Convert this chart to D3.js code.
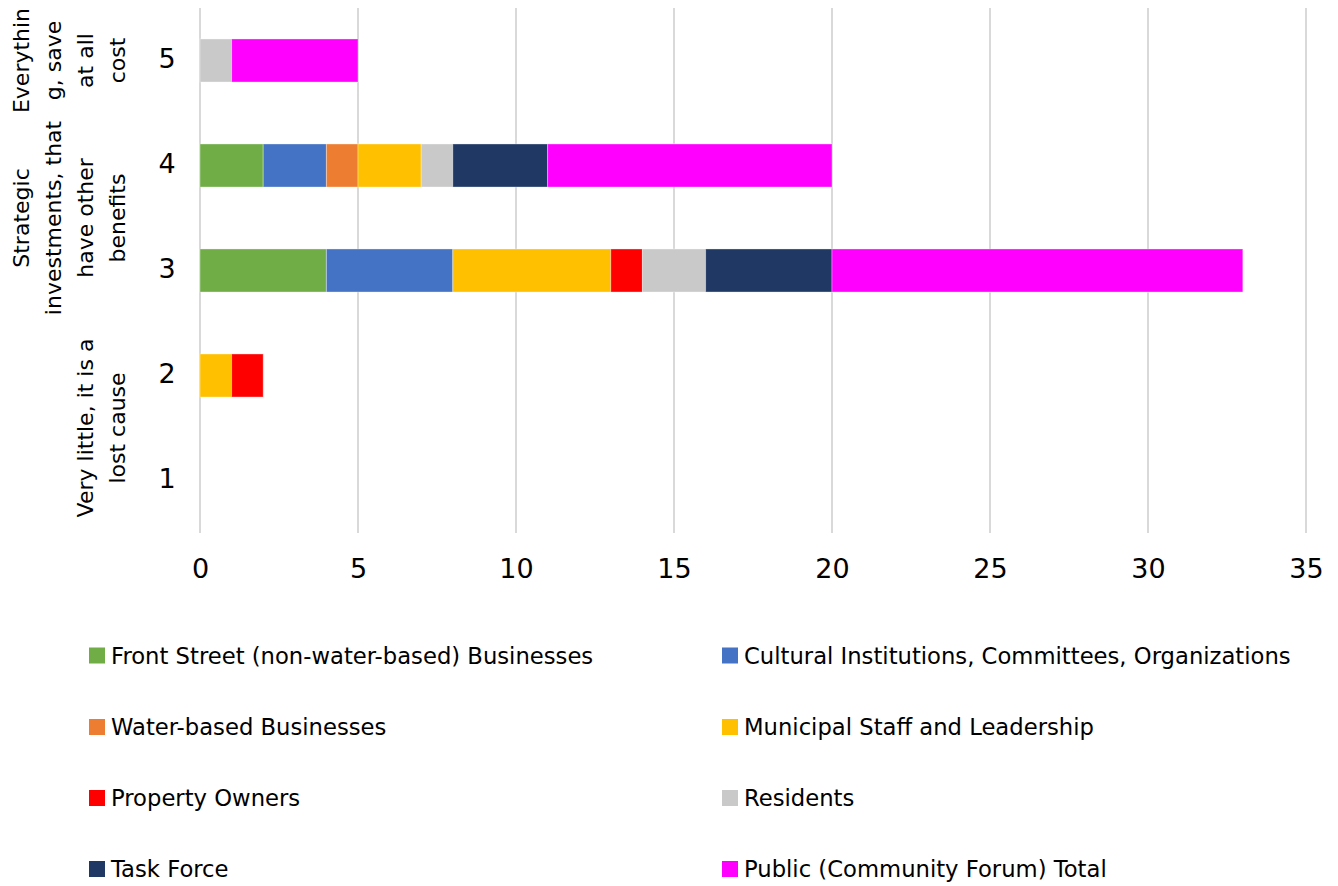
<!DOCTYPE html>
<html>
<head>
<meta charset="utf-8">
<script src="https://cdn.jsdelivr.net/npm/d3@7"></script>
<style>
  html, body { margin: 0; padding: 0; background: #fff; }
  svg { display: block; font-family: "DejaVu Sans", sans-serif; }
</style>
</head>
<body>
<svg id="chart" width="1338" height="886"></svg>
<script>
// Response scale (1 = lowest, 5 = highest), listed top to bottom
const categories = ["5", "4", "3", "2", "1"];

// Stakeholder groups, in stacking order
const seriesNames = [
  "Front Street (non-water-based) Businesses",
  "Cultural Institutions, Committees, Organizations",
  "Water-based Businesses",
  "Municipal Staff and Leadership",
  "Property Owners",
  "Residents",
  "Task Force",
  "Public (Community Forum) Total"
];
const seriesColors = ["#70AD47", "#4472C4", "#ED7D31", "#FFC000", "#FF0000", "#C9C9C9", "#203864", "#FF00FF"];

// Counts per category (order: 5, 4, 3, 2, 1)
const frontStreet = [0, 2, 4, 0, 0];
const cultural    = [0, 2, 4, 0, 0];
const waterBased  = [0, 1, 0, 0, 0];
const municipal   = [0, 2, 5, 1, 0];
const property    = [0, 0, 1, 1, 0];
const residents   = [1, 1, 2, 0, 0];
const taskForce   = [0, 3, 4, 0, 0];
const publicTotal = [4, 9, 13, 0, 0];

// Grouped axis descriptions (pre-wrapped lines)
const groupLabels = [
  { lines: ["Everythin", "g, save", "at all", "cost"], cats: ["5"] },
  { lines: ["Strategic", "investments, that", "have other", "benefits"], cats: ["4", "3"] },
  { lines: ["Very little, it is a", "lost cause"], cats: ["2", "1"] }
];

const xTicks = [0, 5, 10, 15, 20, 25, 30, 35];

const seriesValues = [frontStreet, cultural, waterBased, municipal, property, residents, taskForce, publicTotal];
const rows = categories.map((c, i) => {
  const r = { cat: c };
  seriesNames.forEach((s, j) => { r[s] = seriesValues[j][i]; });
  return r;
});

const svg = d3.select("#chart");
const plot = { left: 200, right: 1306, top: 8, bottom: 533 };

const x = d3.scaleLinear().domain([0, 35]).range([plot.left, plot.right]);
const y = d3.scaleBand().domain(categories).range([plot.top, plot.bottom])
  .paddingInner(0.59).paddingOuter(0.295);
const color = d3.scaleOrdinal().domain(seriesNames).range(seriesColors);

// Vertical gridlines
svg.append("g").selectAll("line").data(xTicks).join("line")
  .attr("x1", d => x(d)).attr("x2", d => x(d))
  .attr("y1", plot.top).attr("y2", plot.bottom)
  .attr("stroke", "#d9d9d9").attr("stroke-width", 2);

// X axis labels
const xAxis = d3.axisBottom(x).tickValues(xTicks).tickSize(0).tickPadding(0);
const gx = svg.append("g").attr("transform", `translate(0,568)`).call(xAxis);
gx.select(".domain").remove();
gx.selectAll("text").attr("font-size", 27).attr("fill", "#000").attr("dy", "0.36em")
  .attr("font-family", "DejaVu Sans, sans-serif");

// Stacked bars
const stack = d3.stack().keys(seriesNames)(rows);
svg.append("g").selectAll("g").data(stack).join("g")
  .attr("fill", d => color(d.key))
  .selectAll("rect").data(d => d.filter(p => p[1] - p[0] > 0)).join("rect")
  .attr("x", d => x(d[0]))
  .attr("width", d => x(d[1]) - x(d[0]))
  .attr("y", d => y(d.data.cat))
  .attr("height", y.bandwidth())
  .attr("stroke", "#fff").attr("stroke-opacity", 0.35).attr("stroke-width", 1);

// Category numbers
const yAxis = d3.axisLeft(y).tickSize(0).tickPadding(0);
const gy = svg.append("g").attr("transform", `translate(167,-2.5)`).call(yAxis);
gy.select(".domain").remove();
gy.selectAll("text").attr("font-size", 27).attr("fill", "#000")
  .attr("text-anchor", "middle").attr("dy", "0.36em")
  .attr("font-family", "DejaVu Sans, sans-serif");

// Group descriptions, rotated
const lineGap = 32;
const lastLineX = 117;
groupLabels.forEach(g => {
  const ys = g.cats.map(c => y(c) + y.bandwidth() / 2);
  const cy = d3.mean(ys);
  const n = g.lines.length;
  g.lines.forEach((t, i) => {
    const lx = lastLineX - (n - 1 - i) * lineGap;
    svg.append("text")
      .attr("transform", `translate(${lx},${cy}) rotate(-90)`)
      .attr("text-anchor", "middle")
      .attr("dominant-baseline", "central")
      .attr("font-size", 22)
      .attr("fill", "#000")
      .text(t);
  });
});

// Legend: two columns
const legendCols = [89, 722];
const legendRows = [655.5, 727, 798, 869];
const legend = svg.append("g").selectAll("g").data(seriesNames).join("g")
  .attr("transform", (d, i) => `translate(${legendCols[i % 2]},${legendRows[Math.floor(i / 2)]})`);
legend.append("rect").attr("x", 0).attr("y", -8).attr("width", 16).attr("height", 16)
  .attr("fill", d => color(d));
legend.append("text").attr("x", 22).attr("y", 0).attr("dy", "0.36em")
  .attr("font-size", 22.7).attr("fill", "#000").text(d => d);
</script>
</body>
</html>
